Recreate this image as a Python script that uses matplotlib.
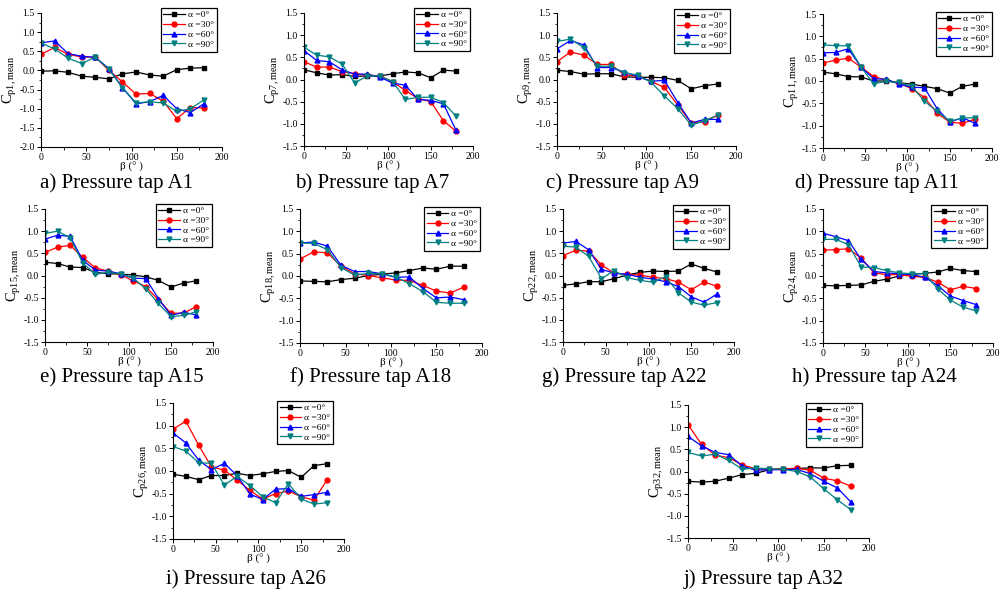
import matplotlib
matplotlib.use("Agg")
import matplotlib.pyplot as plt
from matplotlib.ticker import MultipleLocator, FormatStrFormatter

plt.rcParams['font.family'] = ['Liberation Serif', 'DejaVu Serif']
plt.rcParams['mathtext.fontset'] = 'custom'
plt.rcParams['mathtext.rm'] = 'Liberation Serif'
plt.rcParams['mathtext.it'] = 'Liberation Serif:italic'

beta = [0, 15, 30, 45, 60, 75, 90, 105, 120, 135, 150, 165, 180]
series_labels = ['α =0°', 'α =30°', 'α =60°', 'α =90°']
taps = ['1', '7', '9', '11', '15', '18', '22', '24', '26', '32']
captions = ['a) Pressure tap A1', 'b) Pressure tap A7', 'c) Pressure tap A9', 'd) Pressure tap A11',
            'e) Pressure tap A15', 'f) Pressure tap A18', 'g) Pressure tap A22', 'h) Pressure tap A24',
            'i) Pressure tap A26', 'j) Pressure tap A32']

cp1_a0 = [-0.02, -0.01, -0.05, -0.15, -0.18, -0.22, -0.09, -0.04, -0.12, -0.15, 0.02, 0.06, 0.07]
cp1_a30 = [0.42, 0.60, 0.42, 0.35, 0.35, 0.00, -0.30, -0.62, -0.60, -0.80, -1.26, -0.97, -0.98]
cp1_a60 = [0.72, 0.77, 0.44, 0.37, 0.34, 0.05, -0.45, -0.87, -0.82, -0.65, -1.00, -1.10, -0.87]
cp1_a90 = [0.72, 0.56, 0.32, 0.18, 0.35, 0.03, -0.45, -0.85, -0.82, -0.85, -1.07, -1.00, -0.77]

cp7_a0 = [0.22, 0.15, 0.10, 0.11, 0.07, 0.08, 0.08, 0.13, 0.17, 0.15, 0.04, 0.21, 0.19]
cp7_a30 = [0.40, 0.28, 0.28, 0.18, 0.13, 0.10, 0.08, -0.05, -0.25, -0.43, -0.50, -0.93, -1.17]
cp7_a60 = [0.65, 0.43, 0.40, 0.22, 0.12, 0.12, 0.05, -0.08, -0.13, -0.45, -0.47, -0.55, -1.15]
cp7_a90 = [0.73, 0.55, 0.51, 0.35, -0.08, 0.08, 0.08, -0.05, -0.45, -0.40, -0.40, -0.52, -0.83]

cp9_a0 = [0.21, 0.18, 0.12, 0.13, 0.13, 0.06, 0.05, 0.05, 0.04, -0.02, -0.21, -0.14, -0.10]
cp9_a30 = [0.40, 0.62, 0.55, 0.34, 0.34, 0.11, 0.07, -0.04, -0.18, -0.58, -0.98, -0.95, -0.80]
cp9_a60 = [0.69, 0.88, 0.78, 0.27, 0.27, 0.17, 0.07, -0.04, -0.02, -0.52, -0.98, -0.90, -0.90]
cp9_a90 = [0.86, 0.91, 0.72, 0.30, 0.30, 0.15, 0.10, -0.06, -0.37, -0.66, -1.03, -0.93, -0.80]

cp11_a0 = [0.20, 0.16, 0.10, 0.09, 0.00, 0.00, -0.04, -0.07, -0.12, -0.17, -0.27, -0.12, -0.07]
cp11_a30 = [0.40, 0.47, 0.51, 0.31, 0.10, 0.02, -0.05, -0.17, -0.37, -0.72, -0.92, -0.95, -0.85]
cp11_a60 = [0.63, 0.64, 0.72, 0.31, 0.05, 0.04, -0.07, -0.14, -0.15, -0.62, -0.92, -0.82, -0.95]
cp11_a90 = [0.81, 0.79, 0.79, 0.31, -0.06, -0.01, -0.03, -0.12, -0.45, -0.68, -0.90, -0.83, -0.82]

cp15_a0 = [0.30, 0.27, 0.19, 0.18, 0.07, 0.04, 0.03, 0.01, -0.03, -0.11, -0.26, -0.17, -0.12]
cp15_a30 = [0.52, 0.64, 0.68, 0.41, 0.17, 0.10, 0.02, -0.12, -0.25, -0.55, -0.85, -0.85, -0.70]
cp15_a60 = [0.82, 0.91, 0.88, 0.34, 0.12, 0.10, 0.04, -0.06, -0.07, -0.52, -0.90, -0.83, -0.89]
cp15_a90 = [0.95, 1.00, 0.85, 0.28, 0.03, 0.07, 0.04, -0.06, -0.30, -0.63, -0.93, -0.90, -0.82]

cp18_a0 = [-0.11, -0.12, -0.13, -0.08, -0.05, 0.01, 0.04, 0.07, 0.12, 0.18, 0.15, 0.22, 0.22]
cp18_a30 = [0.38, 0.54, 0.52, 0.22, 0.05, 0.01, -0.04, -0.09, -0.10, -0.21, -0.34, -0.38, -0.25]
cp18_a60 = [0.74, 0.76, 0.67, 0.24, 0.10, 0.10, 0.05, -0.03, -0.02, -0.28, -0.49, -0.47, -0.53]
cp18_a90 = [0.74, 0.73, 0.59, 0.19, 0.02, 0.06, 0.05, -0.02, -0.17, -0.35, -0.59, -0.61, -0.61]

cp22_a0 = [-0.22, -0.19, -0.14, -0.14, -0.07, 0.01, 0.07, 0.10, 0.09, 0.10, 0.26, 0.16, 0.08]
cp22_a30 = [0.45, 0.57, 0.55, 0.24, 0.05, 0.03, 0.01, -0.04, -0.07, -0.15, -0.32, -0.15, -0.24]
cp22_a60 = [0.73, 0.77, 0.58, 0.14, 0.05, 0.03, -0.04, -0.08, -0.14, -0.25, -0.48, -0.60, -0.42]
cp22_a90 = [0.66, 0.64, 0.43, -0.07, 0.11, -0.05, -0.11, -0.15, -0.03, -0.39, -0.60, -0.67, -0.61]

cp24_a0 = [-0.21, -0.22, -0.21, -0.20, -0.12, -0.07, 0.00, 0.04, 0.06, 0.09, 0.17, 0.12, 0.10]
cp24_a30 = [0.58, 0.59, 0.61, 0.40, 0.07, 0.03, 0.03, -0.01, -0.03, -0.14, -0.31, -0.23, -0.28]
cp24_a60 = [0.96, 0.88, 0.79, 0.37, 0.10, 0.07, 0.05, 0.03, -0.03, -0.22, -0.45, -0.55, -0.64]
cp24_a90 = [0.82, 0.82, 0.70, 0.20, 0.19, 0.12, 0.07, 0.05, 0.05, -0.29, -0.54, -0.70, -0.78]

cp26_a0 = [-0.07, -0.12, -0.19, -0.10, -0.10, -0.05, -0.10, -0.06, -0.01, 0.01, -0.14, 0.12, 0.16]
cp26_a30 = [0.92, 1.10, 0.57, 0.09, 0.02, -0.20, -0.43, -0.62, -0.50, -0.44, -0.57, -0.64, -0.20]
cp26_a60 = [0.84, 0.62, 0.24, 0.03, 0.17, -0.10, -0.51, -0.63, -0.40, -0.39, -0.56, -0.52, -0.47]
cp26_a90 = [0.54, 0.44, 0.18, 0.17, -0.31, -0.12, -0.32, -0.57, -0.70, -0.28, -0.62, -0.73, -0.70]

cp32_a0 = [-0.22, -0.24, -0.22, -0.15, -0.07, -0.04, 0.04, 0.06, 0.07, 0.08, 0.08, 0.13, 0.14]
cp32_a30 = [1.06, 0.61, 0.37, 0.31, 0.15, 0.06, 0.05, 0.06, 0.07, 0.03, -0.15, -0.21, -0.33]
cp32_a60 = [0.79, 0.58, 0.43, 0.38, 0.12, 0.03, 0.04, 0.04, 0.05, -0.05, -0.22, -0.37, -0.69]
cp32_a90 = [0.43, 0.35, 0.39, 0.25, 0.05, 0.08, 0.06, 0.05, 0.00, -0.12, -0.39, -0.64, -0.86]

panel_data = [
    [cp1_a0, cp1_a30, cp1_a60, cp1_a90],
    [cp7_a0, cp7_a30, cp7_a60, cp7_a90],
    [cp9_a0, cp9_a30, cp9_a60, cp9_a90],
    [cp11_a0, cp11_a30, cp11_a60, cp11_a90],
    [cp15_a0, cp15_a30, cp15_a60, cp15_a90],
    [cp18_a0, cp18_a30, cp18_a60, cp18_a90],
    [cp22_a0, cp22_a30, cp22_a60, cp22_a90],
    [cp24_a0, cp24_a30, cp24_a60, cp24_a90],
    [cp26_a0, cp26_a30, cp26_a60, cp26_a90],
    [cp32_a0, cp32_a30, cp32_a60, cp32_a90],
]

colors = ['#000000', '#FF0000', '#0000FF', '#008080']
markers = ['s', 'o', '^', 'v']

W, H = 1003, 593
fig = plt.figure(figsize=(W / 100, H / 100), dpi=100)

# pixel boxes (left, top, right, bottom)
boxes = [(41, 13, 222, 147), (304, 13, 473, 146), (557, 13, 736, 146), (823, 14, 992, 148),
         (45, 209, 213, 342), (300, 209, 482, 343), (563, 209, 734, 342), (823, 209, 993, 343),
         (173, 403, 344, 539), (688, 405, 869, 538)]
ymins = [-2.0] + [-1.5] * 9
leg_anchor = [(0.972, 1.037), (0.982, 1.04), (0.967, 1.03), (1.0, 1.015),
              (0.994, 1.04), (0.99, 1.015), (0.97, 1.03), (0.965, 1.03),
              (0.936, 1.015), (0.961, 1.015)]
cap_pos = [(117, 183), (372, 183), (623, 183), (877, 183),
           (122, 377), (371, 377), (624, 377), (874, 377),
           (246, 579), (764, 579)]

for k in range(10):
    l, t, r, b = boxes[k]
    ax = fig.add_axes([l / W, 1 - b / H, (r - l) / W, (b - t) / H])
    for j in range(4):
        ax.plot(beta, panel_data[k][j], color=colors[j], marker=markers[j], markersize=3.5,
                linewidth=0.9, label=series_labels[j])
    ax.set_xlim(0, 200)
    ax.set_ylim(ymins[k], 1.5)
    ax.xaxis.set_major_locator(MultipleLocator(50))
    ax.xaxis.set_minor_locator(MultipleLocator(25))
    ax.yaxis.set_major_locator(MultipleLocator(0.5))
    ax.yaxis.set_minor_locator(MultipleLocator(0.25))
    ax.yaxis.set_major_formatter(FormatStrFormatter('%.1f'))
    ax.spines['top'].set_visible(False)
    ax.spines['right'].set_visible(False)
    for s in ['left', 'bottom']:
        ax.spines[s].set_linewidth(0.8)
    ax.tick_params(which='major', direction='out', length=3, width=0.7, labelsize=7, pad=1.5)
    ax.tick_params(which='minor', direction='out', length=1.8, width=0.6)
    ax.set_xlabel('β (° )', fontsize=8, labelpad=0)
    ax.set_ylabel(r'C$_{\mathrm{p' + taps[k] + r',mean}}$', fontsize=10.5, labelpad=0)
    leg = ax.legend(loc='upper right', bbox_to_anchor=leg_anchor[k], fontsize=6.8,
                    frameon=True, fancybox=False, edgecolor='black', framealpha=1,
                    handlelength=2.3, handletextpad=0.3, borderpad=0.3, labelspacing=0.12,
                    borderaxespad=0)
    leg.get_frame().set_linewidth(0.9)
    cx, cy = cap_pos[k]
    fig.text(cx / W, 1 - cy / H, captions[k], ha='center', va='center', fontsize=15)

fig.savefig('out.png', dpi=100)
